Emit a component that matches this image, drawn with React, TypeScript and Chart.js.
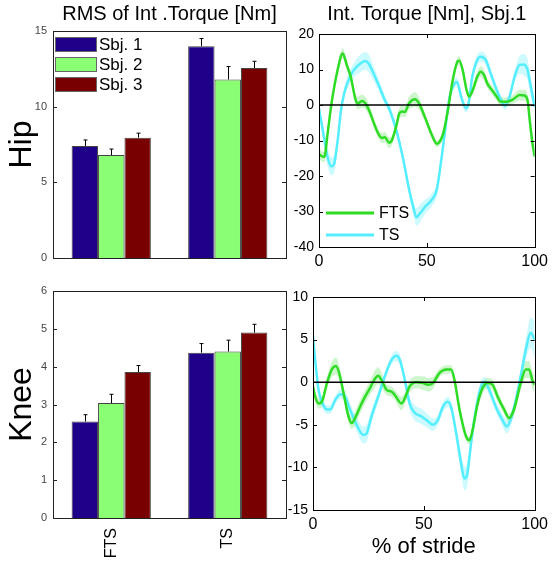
import React, { useEffect, useRef } from 'react';
import { Chart, registerables } from 'chart.js';
Chart.register(...registerables);

const FONT = '"Liberation Sans", Arial, Helvetica, sans-serif';

// ---------- Bar data ----------
const categories = ['FTS', 'TS'];
const subjects = ['Sbj. 1', 'Sbj. 2', 'Sbj. 3'];
const subjectColors = ['#1f0089', '#8aff73', '#780000'];

const hipSbj1 = [7.4, 14.0];
const hipSbj1Err = [0.4, 0.5];
const hipSbj2 = [6.8, 11.8];
const hipSbj2Err = [0.4, 0.85];
const hipSbj3 = [7.95, 12.55];
const hipSbj3Err = [0.3, 0.45];

const kneeSbj1 = [2.55, 4.37];
const kneeSbj1Err = [0.18, 0.24];
const kneeSbj2 = [3.04, 4.4];
const kneeSbj2Err = [0.23, 0.3];
const kneeSbj3 = [3.86, 4.9];
const kneeSbj3Err = [0.17, 0.22];

const hipBarTicks = [0, 15, 5];
const kneeBarTicks = [0, 6, 1];

// ---------- Line data (% of stride) ----------
const hipFtsX = [0, 1.5, 2.5, 4, 5.7, 8.5, 11, 13, 14.7, 17, 18, 20, 21.5, 23.8, 26, 28.3, 29.5, 30.5, 32.5, 33.5, 35.8, 37.3, 38.8, 39.7, 41.8, 44.5, 46.3, 49.3, 52.3, 54.6, 55.3, 57.6, 59.8, 62, 64.4, 65, 66.6, 68.4, 69.6, 71.6, 73.4, 75, 76.5, 78, 80.2, 82.4, 84, 87, 90, 93, 95.2, 96.7, 97.7, 99, 100];
const hipFtsY = [-13.8, -14.5, -14.6, -8, 0, 9.5, 14.5, 11, 8, 1.4, 0.5, 1.1, 0.5, -2.3, -6, -8.9, -9.3, -9, -10.6, -10.3, -6, -2.3, -1.8, -2, 0.5, 1.6, 0.5, -3.7, -8.4, -10.9, -10.8, -8, -1.4, 7, 12.4, 12.5, 9.9, 4.3, 2.4, 4.7, 8, 9.4, 8.5, 6.1, 4.2, 2.4, 1, 0.9, 1.6, 2.8, 2.7, 1.4, -4.2, -10.8, -14.5];
const hipFtsSd = [1.5, 1.5, 1.5, 1.2, 1, 1.2, 1.5, 1.3, 1.2, 1.5, 1.8, 1.8, 1.8, 1.5, 1.2, 1.3, 1.5, 1.5, 1.5, 1.3, 1.2, 1.5, 1.5, 1.5, 1.8, 2, 1.8, 1.2, 1, 1, 1, 1, 1, 1, 1.2, 1.2, 1, 1, 1.2, 1.2, 1.5, 1.5, 1.5, 1.3, 1.2, 1.2, 1.2, 1.2, 1.2, 1.5, 1.5, 1.5, 1.2, 1.2, 1.2];

const hipTsX = [0, 2, 3.9, 5.7, 6.9, 8.7, 10.2, 11.7, 14, 16.2, 19.2, 21.5, 23, 25.3, 28.3, 30.5, 32.8, 35.8, 38.8, 41.8, 44, 45.1, 47, 49.3, 52.3, 54.6, 56.5, 58.3, 60.6, 62.9, 64, 65.9, 68.1, 69.2, 71.1, 73.4, 75, 77.3, 79.6, 82.4, 84.7, 86.2, 88.4, 90.7, 93, 94.9, 96.7, 98.2, 100];
const hipTsY = [-1, -8, -14.5, -17.3, -16.8, -9.8, -1.4, 3.3, 7.5, 9.9, 11.7, 12.4, 11.7, 8.9, 4.7, 1.4, -1.4, -7, -14.5, -23.9, -29.5, -31.6, -30.4, -28.6, -26.7, -23.9, -16.4, -8, 2.4, 6.1, 6.5, 2.4, -0.9, 0, 8, 12.7, 13.6, 12.7, 8.9, 4.2, 1, -0.2, 2.4, 8, 11.3, 11.4, 9.9, 5.2, -0.5];
const hipTsSd = [1.5, 2, 2.5, 2.5, 2.5, 2, 1.5, 1.5, 1.8, 2, 2.5, 2.5, 2.5, 2, 1.5, 1.2, 1.2, 1.2, 1.2, 1.5, 2, 2.5, 2.5, 2, 1.8, 1.8, 1.5, 1.2, 1.2, 1.2, 1.2, 1.2, 1.2, 1.2, 1.2, 1.5, 1.5, 1.5, 1.2, 1.2, 1.2, 1.2, 1.2, 1.5, 2.5, 3, 3, 2.5, 2];

const kneeFtsX = [0, 1, 2.5, 4, 6.3, 8.5, 10.3, 11.8, 13.8, 16, 17.5, 19, 21.2, 23.5, 25.7, 27.7, 29.4, 31.2, 33.2, 35.4, 36.9, 39.9, 41.4, 43.6, 46.6, 49.6, 51.9, 54.1, 57.1, 60.1, 62.3, 63.8, 66.1, 69.1, 70.6, 72, 74.3, 76.5, 78.8, 81, 83.3, 86.2, 88.5, 90.7, 93.7, 96, 97.5, 98.9, 100];
const kneeFtsY = [-0.5, -1.7, -2.5, -2.3, -0.1, 1.5, 1.9, 1.1, -1.3, -4, -4.8, -4.2, -2.9, -1.7, -0.7, 0.3, 0.75, 0.1, -0.9, -1.1, -1.5, -2.5, -1.9, -0.5, 0, -0.1, -0.3, -0.1, 1.1, 1.5, 1.5, 0.3, -3.2, -6.4, -6.8, -5.6, -2.5, -0.7, -0.1, -0.3, -1.7, -3.2, -4.2, -3.2, -0.1, 1.5, 1.5, 0.3, -0.3];
const kneeFtsSd = [0.5, 0.6, 0.6, 0.6, 0.7, 0.9, 1.0, 0.9, 0.7, 0.7, 0.7, 0.8, 0.8, 0.8, 0.8, 1.0, 1.0, 0.9, 0.6, 0.6, 0.6, 0.8, 0.7, 0.7, 0.7, 0.8, 0.8, 0.7, 0.5, 0.5, 0.5, 0.6, 0.6, 0.5, 0.5, 0.5, 0.6, 0.6, 0.6, 0.6, 0.6, 0.5, 0.5, 0.6, 0.8, 1.0, 1.0, 1.0, 1.0];

const kneeTsX = [0, 1, 2.5, 4, 6.3, 7.8, 10, 12.3, 14.5, 16.7, 19.7, 22.7, 24.2, 26.4, 29.4, 32.4, 35.4, 37.7, 39.2, 41.4, 43.6, 45.9, 48.8, 51.9, 54.1, 56.4, 58.6, 60.8, 62.3, 64.6, 66.8, 68.3, 69.5, 71.3, 73.5, 75.8, 77.3, 79.5, 82.5, 85.4, 87.4, 89.2, 91.5, 93.7, 96, 98.2, 100];
const kneeTsY = [5.4, 2.6, -0.9, -2.3, -3.2, -3.2, -2.1, -1.4, -1.7, -3.2, -5, -6.2, -6, -4, -1.7, 0.7, 2.6, 3.1, 2.6, 0.3, -2.5, -3.6, -4, -4.6, -5, -4.4, -2.9, -2.3, -2.9, -6, -9.5, -11.3, -10.9, -7.2, -3.2, -0.5, 0, -0.9, -2.9, -4.4, -5.2, -4.4, -2.1, 0.7, 3.8, 5.8, 5];
const kneeTsSd = [1.5, 1.2, 0.8, 0.6, 0.5, 0.5, 0.5, 0.5, 0.6, 0.7, 0.8, 1.0, 1.0, 0.8, 0.6, 0.5, 0.5, 0.6, 0.6, 0.6, 0.8, 0.9, 0.9, 0.8, 0.7, 0.6, 0.6, 0.6, 0.6, 0.8, 1.2, 1.4, 1.4, 1.0, 0.7, 0.6, 0.6, 0.6, 0.6, 0.7, 0.8, 0.8, 0.7, 0.8, 1.2, 1.8, 2.2];

const conditions = ['FTS', 'TS'];
const lineColors = ['#2fdc25', '#55eeff'];
const bandColors = ['rgba(60,220,50,0.25)', 'rgba(85,238,255,0.3)'];
const hipLineTicks = [-40, 20, 10];
const kneeLineTicks = [-15, 10, 5];
const strideTicks = [0, 100, 50];

// ---------- Plugins ----------
const framePlugin = {
  id: 'frame',
  afterDatasetsDraw(chart: any, _a: any, o: any) {
    const { ctx, chartArea } = chart;
    const { left, top, right, bottom } = chartArea;
    ctx.save();
    ctx.strokeStyle = o.color || '#000';
    ctx.lineWidth = o.width || 1;
    ctx.strokeRect(Math.round(left) + 0.5, Math.round(top) + 0.5, Math.round(right - left), Math.round(bottom - top));
    const ys = chart.scales.y;
    ctx.beginPath();
    ys.ticks.forEach((t: any) => {
      const p = Math.round(ys.getPixelForValue(t.value)) + 0.5;
      ctx.moveTo(left, p); ctx.lineTo(left + 4, p);
      ctx.moveTo(right, p); ctx.lineTo(right - 4, p);
    });
    if (o.xTicks) {
      const xs = chart.scales.x;
      xs.ticks.forEach((t: any) => {
        const p = Math.round(xs.getPixelForValue(t.value)) + 0.5;
        ctx.moveTo(p, bottom); ctx.lineTo(p, bottom - 4);
        ctx.moveTo(p, top); ctx.lineTo(p, top + 4);
      });
    }
    ctx.stroke();
    ctx.restore();
  },
};

const errorBarPlugin = {
  id: 'errorBars',
  afterDatasetsDraw(chart: any) {
    const { ctx } = chart;
    const ys = chart.scales.y;
    ctx.save();
    ctx.strokeStyle = '#000';
    ctx.lineWidth = 1;
    chart.data.datasets.forEach((ds: any, i: number) => {
      if (!ds.errors) return;
      const meta = chart.getDatasetMeta(i);
      meta.data.forEach((el: any, j: number) => {
        const yTop = ys.getPixelForValue(ds.data[j] + ds.errors[j]);
        const x = Math.round(el.x) + 0.5;
        ctx.beginPath();
        ctx.moveTo(x, el.y);
        ctx.lineTo(x, yTop);
        ctx.moveTo(x - 2, yTop);
        ctx.lineTo(x + 2, yTop);
        ctx.stroke();
      });
    });
    ctx.restore();
  },
};

const insetLegendPlugin = {
  id: 'insetLegend',
  afterDraw(chart: any, _a: any, o: any) {
    if (!o || !o.show) return;
    const { ctx, chartArea } = chart;
    const items = chart.data.datasets.filter((d: any) => d.inLegend);
    ctx.save();
    ctx.font = `${o.fontSize}px ${FONT}`;
    ctx.textBaseline = 'middle';
    ctx.textAlign = 'left';
    items.forEach((d: any, i: number) => {
      const x = chartArea.left + o.x;
      const y = (o.fromBottom ? chartArea.bottom - o.y : chartArea.top + o.y) + i * o.rowGap;
      if (o.kind === 'box') {
        ctx.fillStyle = d.backgroundColor;
        ctx.fillRect(x, y - o.boxH / 2, o.boxW, o.boxH);
        ctx.strokeStyle = '#666';
        ctx.lineWidth = 1;
        ctx.strokeRect(x + 0.5, y - o.boxH / 2 + 0.5, o.boxW, o.boxH);
      } else {
        ctx.strokeStyle = d.borderColor;
        ctx.lineWidth = 3;
        ctx.beginPath();
        ctx.moveTo(x, y);
        ctx.lineTo(x + o.boxW, y);
        ctx.stroke();
      }
      ctx.fillStyle = '#000';
      ctx.fillText(d.label, x + o.boxW + o.gap, y + 1);
    });
    ctx.restore();
  },
};

// ---------- Config builders ----------
function barConfig(p: any) {
  const values = p.values;
  const errs = p.errors;
  return {
    type: 'bar',
    data: {
      labels: categories,
      datasets: subjects.map((s, i) => ({
        label: s,
        data: values[i],
        errors: errs[i],
        inLegend: true,
        backgroundColor: subjectColors[i],
        borderColor: '#444',
        borderWidth: 1,
        categoryPercentage: 0.68,
        barPercentage: 1.0,
      })),
    },
    plugins: [framePlugin, errorBarPlugin, insetLegendPlugin],
    options: {
      responsive: false,
      animation: false,
      devicePixelRatio: 1,
      layout: { padding: p.padding },
      plugins: {
        legend: { display: false },
        tooltip: { enabled: false },
        title: p.title
          ? {
              display: true,
              text: p.title,
              fullSize: false,
              color: '#000',
              font: { family: FONT, size: 20, weight: 'normal', lineHeight: 1.2 },
              padding: { top: 2, bottom: 5 },
            }
          : { display: false },
        frame: { color: '#222', width: 1 },
        insetLegend: p.legend
          ? { show: true, kind: 'box', fontSize: 17, x: 2, y: 13, fromBottom: false, rowGap: 20, boxW: 41, boxH: 14, gap: 3 }
          : { show: false },
      },
      scales: {
        x: {
          grid: { display: false, drawTicks: false },
          border: { display: false },
          ticks: p.showX
            ? { display: true, minRotation: 90, maxRotation: 90, padding: 10, color: '#000', font: { family: FONT, size: 16 } }
            : { display: false },
          afterFit: (s: any) => { s.height = p.xHeight; },
        },
        y: {
          min: p.ticks[0],
          max: p.ticks[1],
          grid: { display: false, drawTicks: false },
          border: { display: false },
          ticks: { stepSize: p.ticks[2], padding: 6, color: '#444', font: { family: FONT, size: 11 } },
          title: { display: true, text: p.yTitle, color: '#000', font: { family: FONT, size: 32, weight: 'normal', lineHeight: 1.2 }, padding: { top: 3, bottom: 0 } },
          afterFit: (s: any) => { s.width = 53; },
        },
      },
    },
  };
}

function pts(xs: number[], ys: number[], sd?: number[], sign = 0) {
  return xs.map((x, i) => ({ x, y: ys[i] + (sd ? sign * sd[i] : 0) }));
}

function lineConfig(p: any) {
  const [fx, fy, fsd] = p.fts;
  const [tx, ty, tsd] = p.ts;
  const common = { pointRadius: 0, cubicInterpolationMode: 'monotone' };
  return {
    type: 'line',
    data: {
      datasets: [
        { label: 'zero', data: [{ x: strideTicks[0], y: 0 }, { x: strideTicks[1], y: 0 }], borderColor: '#000', borderWidth: 1.5, pointRadius: 0, fill: false, order: 0 },
        { label: conditions[0], inLegend: true, data: pts(fx, fy), borderColor: lineColors[0], borderWidth: 2.5, fill: false, order: 1, ...common },
        { label: conditions[1], inLegend: true, data: pts(tx, ty), borderColor: lineColors[1], borderWidth: 2.5, fill: false, order: 2, ...common },
        { label: 'ftsUp', data: pts(fx, fy, fsd, 1), borderWidth: 0, borderColor: 'rgba(0,0,0,0)', backgroundColor: bandColors[0], fill: '+1', order: 3, ...common },
        { label: 'ftsLo', data: pts(fx, fy, fsd, -1), borderWidth: 0, borderColor: 'rgba(0,0,0,0)', fill: false, order: 4, ...common },
        { label: 'tsUp', data: pts(tx, ty, tsd, 1), borderWidth: 0, borderColor: 'rgba(0,0,0,0)', backgroundColor: bandColors[1], fill: '+1', order: 5, ...common },
        { label: 'tsLo', data: pts(tx, ty, tsd, -1), borderWidth: 0, borderColor: 'rgba(0,0,0,0)', fill: false, order: 6, ...common },
      ],
    },
    plugins: [framePlugin, insetLegendPlugin],
    options: {
      responsive: false,
      animation: false,
      devicePixelRatio: 1,
      layout: { padding: p.padding },
      plugins: {
        legend: { display: false },
        tooltip: { enabled: false },
        title: p.title
          ? {
              display: true,
              text: p.title,
              fullSize: false,
              color: '#000',
              font: { family: FONT, size: 20, weight: 'normal', lineHeight: 1.2 },
              padding: { top: 2, bottom: 8 },
            }
          : { display: false },
        frame: { color: '#000', width: 1, xTicks: true },
        insetLegend: p.legend
          ? { show: true, kind: 'line', fontSize: 16, x: 7, y: 34, fromBottom: true, rowGap: 22, boxW: 48, gap: 5 }
          : { show: false },
      },
      scales: {
        x: {
          type: 'linear',
          min: strideTicks[0],
          max: strideTicks[1],
          grid: { display: false, drawTicks: false },
          border: { display: false },
          ticks: { stepSize: strideTicks[2], padding: 5, color: '#000', font: { family: FONT, size: 16 } },
          title: p.xTitle
            ? { display: true, text: p.xTitle, color: '#000', font: { family: FONT, size: 22, weight: 'normal', lineHeight: 1.2 }, padding: { top: 0, bottom: 0 } }
            : { display: false },
          afterFit: (s: any) => { s.height = p.xHeight; },
        },
        y: {
          min: p.ticks[0],
          max: p.ticks[1],
          grid: { display: false, drawTicks: false },
          border: { display: false },
          ticks: { stepSize: p.ticks[2], padding: 5, color: '#000', font: { family: FONT, size: 14 } },
          afterFit: (s: any) => { s.width = 40; },
        },
      },
    },
  };
}

const W = 553;
const H = 568;

const panels = [
  () => barConfig({
    values: [hipSbj1, hipSbj2, hipSbj3],
    errors: [hipSbj1Err, hipSbj2Err, hipSbj3Err],
    ticks: hipBarTicks,
    title: 'RMS of Int .Torque [Nm]',
    yTitle: 'Hip',
    legend: true,
    showX: false,
    xHeight: 0,
    padding: { left: 0, top: 0, right: W - 286, bottom: H - 258 },
  }),
  () => lineConfig({
    fts: [hipFtsX, hipFtsY, hipFtsSd],
    ts: [hipTsX, hipTsY, hipTsSd],
    ticks: hipLineTicks,
    title: 'Int. Torque [Nm], Sbj.1',
    legend: true,
    xHeight: 20,
    padding: { left: 279, top: 0, right: W - 541, bottom: H - 247 - 20 },
  }),
  () => barConfig({
    values: [kneeSbj1, kneeSbj2, kneeSbj3],
    errors: [kneeSbj1Err, kneeSbj2Err, kneeSbj3Err],
    ticks: kneeBarTicks,
    title: null,
    yTitle: 'Knee',
    legend: false,
    showX: true,
    xHeight: 50,
    padding: { left: 0, top: 291, right: W - 286, bottom: 0 },
  }),
  () => lineConfig({
    fts: [kneeFtsX, kneeFtsY, kneeFtsSd],
    ts: [kneeTsX, kneeTsY, kneeTsSd],
    ticks: kneeLineTicks,
    title: null,
    xTitle: '% of stride',
    legend: false,
    xHeight: 50,
    padding: { left: 273, top: 297, right: W - 536, bottom: 8 },
  }),
];

function Layer({ make }: { make: () => any }) {
  const ref = useRef<HTMLCanvasElement | null>(null);
  useEffect(() => {
    if (!ref.current) return;
    const chart = new Chart(ref.current, make());
    return () => chart.destroy();
  }, [make]);
  return (
    <canvas
      ref={ref}
      width={W}
      height={H}
      style={{ position: 'absolute', left: 0, top: 0, width: W, height: H }}
    />
  );
}

export default function App() {
  return (
    <div style={{ position: 'fixed', left: 0, top: 0, width: W, height: H, background: '#fff', overflow: 'hidden' }}>
      {panels.map((m, i) => (
        <Layer key={i} make={m} />
      ))}
    </div>
  );
}
